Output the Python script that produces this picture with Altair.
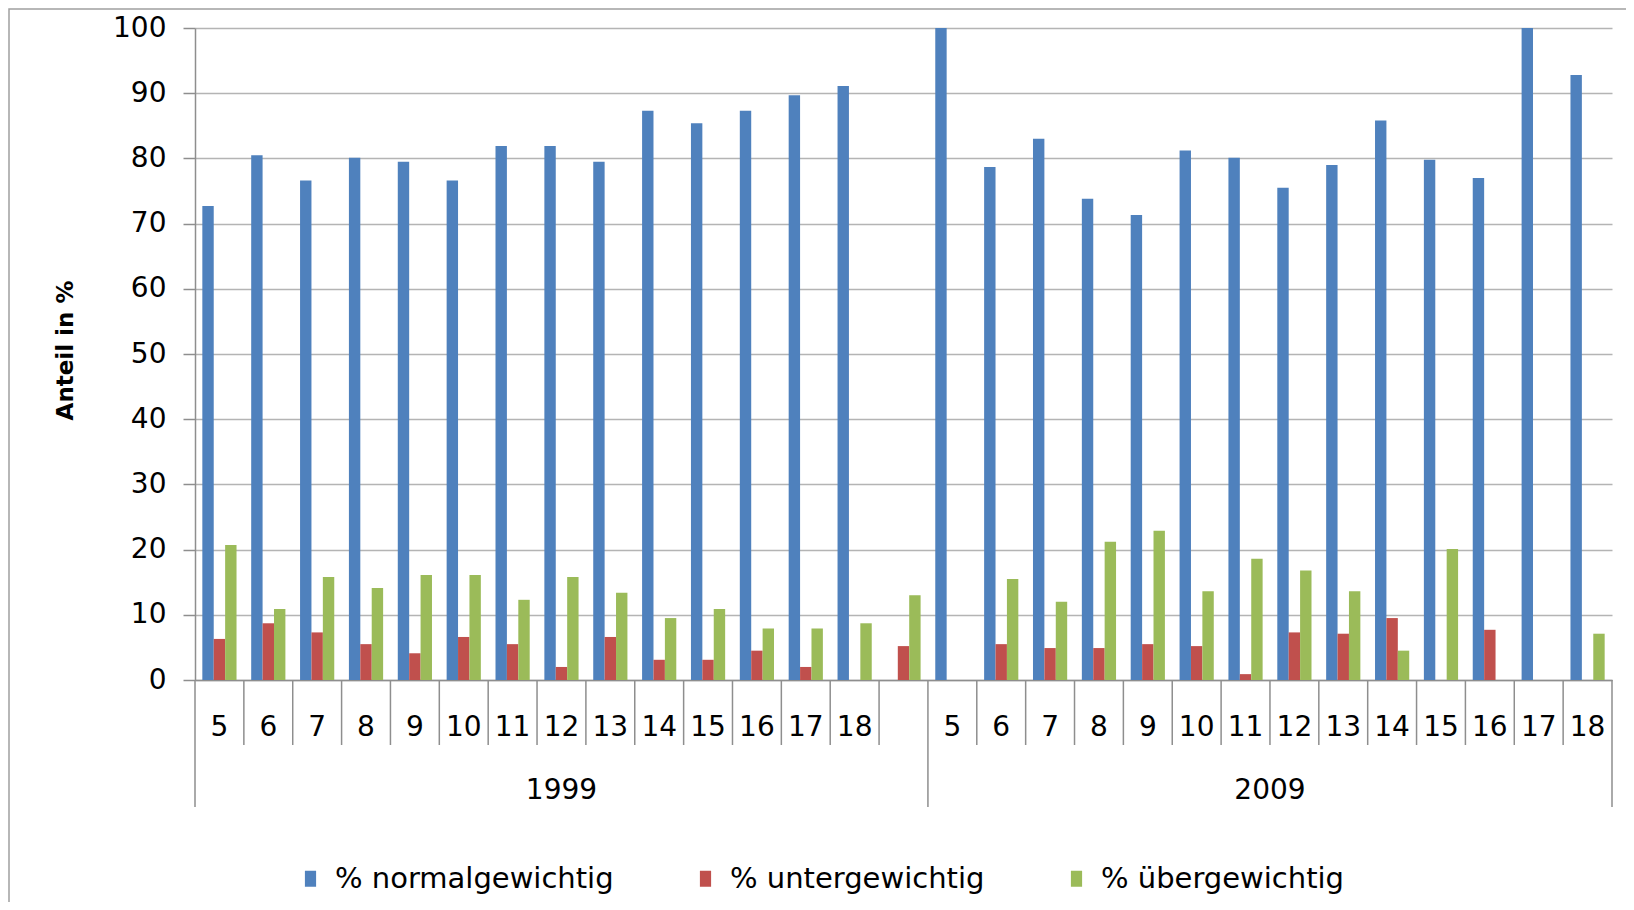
import altair as alt
import pandas as pd

# ---- data ----
ages_1999 = ["5", "6", "7", "8", "9", "10", "11", "12", "13", "14", "15", "16", "17", "18", ""]
normal_1999 = [72.7, 80.5, 76.6, 80.1, 79.5, 76.6, 81.9, 81.9, 79.5, 87.3, 85.4, 87.3, 89.7, 91.1, None]
unter_1999 = [6.3, 8.7, 7.3, 5.5, 4.1, 6.6, 5.5, 2.0, 6.6, 3.1, 3.1, 4.5, 2.0, None, 5.2]
ueber_1999 = [20.7, 10.9, 15.8, 14.1, 16.1, 16.1, 12.3, 15.8, 13.4, 9.5, 10.9, 7.9, 7.9, 8.7, 13.0]

ages_2009 = ["5", "6", "7", "8", "9", "10", "11", "12", "13", "14", "15", "16", "17", "18"]
normal_2009 = [100.0, 78.7, 83.0, 73.8, 71.3, 81.2, 80.1, 75.5, 79.0, 85.8, 79.8, 77.0, 100.0, 92.8]
unter_2009 = [None, 5.5, 4.9, 4.9, 5.5, 5.2, 0.9, 7.3, 7.1, 9.5, None, 7.7, None, None]
ueber_2009 = [None, 15.5, 12.0, 21.2, 22.9, 13.6, 18.6, 16.8, 13.6, 4.5, 20.1, None, None, 7.1]

series_names = ["% normalgewichtig", "% untergewichtig", "% übergewichtig"]
series_colors = ["#4F81BD", "#C0504D", "#9BBB59"]
years = ["1999", "2009"]
y_ticks = [0, 10, 20, 30, 40, 50, 60, 70, 80, 90, 100]

# ---- build tables ----
rows = []
slots = []
for year, ages, series_vals in [
    ("1999", ages_1999, [normal_1999, unter_1999, ueber_1999]),
    ("2009", ages_2009, [normal_2009, unter_2009, ueber_2009]),
]:
    for i, a in enumerate(ages):
        slot = f"{year}|{a}"
        slots.append(slot)
        for s, arr in zip(series_names, series_vals):
            v = arr[i]
            if v is not None:
                rows.append({"slot": slot, "series": s, "value": v})
df = pd.DataFrame(rows)

W, H = 1417, 652
FONT = "DejaVu Sans"
GRID = "#b4b4b4"
AX = "#8e8e8e"
BW = 11.4

xscale = alt.Scale(domain=slots, paddingInner=0, paddingOuter=0)

x_enc = alt.X("slot:N", scale=xscale, sort=slots,
              axis=alt.Axis(title=None, labelExpr="split(datum.value, '|')[1]",
                            labelAngle=0, ticks=False, grid=False,
                            domainColor=AX, domainWidth=1.5,
                            labelFontSize=28, labelFont=FONT, labelColor="#000000",
                            labelPadding=47, labelBaseline="middle"))
y_enc = alt.Y("value:Q", scale=alt.Scale(domain=[0, 100], nice=False), stack=None,
              axis=alt.Axis(values=y_ticks, title="Anteil in %", tickSize=12, tickColor=AX,
                            tickWidth=1.5, domainColor=AX, domainWidth=1.5,
                            gridColor=GRID, gridWidth=1.5,
                            labelFontSize=28, labelFont=FONT, labelColor="#000000",
                            labelPadding=17,
                            titleFont=FONT, titleFontSize=23, titleFontWeight="bold",
                            titleColor="#000000", titleX=-130, titleY=H / 2 - 4,
                            titleAlign="center", titleBaseline="middle", titleAngle=270))
color_enc = alt.Color("series:N", sort=series_names,
                      scale=alt.Scale(domain=series_names, range=series_colors),
                      legend=alt.Legend(title=None, orient="none", direction="horizontal",
                                        legendX=101, legendY=836,
                                        symbolType="M-0.7,-1H0.7V1H-0.7Z", symbolSize=256,
                                        symbolStrokeWidth=0, symbolOpacity=1,
                                        labelFont=FONT, labelFontSize=29, labelColor="#000000",
                                        labelOffset=10, columnPadding=77, labelLimit=500))

offsets = [-BW, 0, BW]
bar_layers = []
for s, off in zip(series_names, offsets):
    bar_layers.append(
        alt.Chart(df[df["series"] == s]).mark_bar(width=BW, xOffset=off).encode(
            x=x_enc, y=y_enc, color=color_enc)
    )

# separators below the axis
n1 = len(ages_1999)
sep_short = pd.DataFrame({"slot": [s for i, s in enumerate(slots) if i not in (0, n1)]})
sep_long_start = pd.DataFrame({"slot": [slots[0], slots[n1]]})
sep_long_end = pd.DataFrame({"slot": [slots[-1]]})

short_rules = alt.Chart(sep_short).mark_rule(color=AX, strokeWidth=1.5).encode(
    x=alt.X("slot:N", scale=xscale, sort=slots, bandPosition=0),
    y=alt.value(H), y2=alt.value(H + 65))
long_rules = alt.Chart(sep_long_start).mark_rule(color=AX, strokeWidth=1.5).encode(
    x=alt.X("slot:N", scale=xscale, sort=slots, bandPosition=0),
    y=alt.value(H), y2=alt.value(H + 127))
end_rule = alt.Chart(sep_long_end).mark_rule(color=AX, strokeWidth=1.5).encode(
    x=alt.X("slot:N", scale=xscale, sort=slots, bandPosition=1),
    y=alt.value(H), y2=alt.value(H + 127))

g1 = pd.DataFrame({"slot": [slots[7]], "label": [years[0]]})
g2 = pd.DataFrame({"slot": [slots[n1 + 7]], "label": [years[1]]})
grp1 = alt.Chart(g1).mark_text(font=FONT, fontSize=28, color="#000000", baseline="middle").encode(
    x=alt.X("slot:N", scale=xscale, sort=slots, bandPosition=0.5),
    y=alt.value(H + 111), text="label:N")
grp2 = alt.Chart(g2).mark_text(font=FONT, fontSize=28, color="#000000", baseline="middle").encode(
    x=alt.X("slot:N", scale=xscale, sort=slots, bandPosition=0),
    y=alt.value(H + 111), text="label:N")

frame = alt.Chart(pd.DataFrame({"k": [0]})).mark_rect(
    fill="transparent", stroke="#a0a0a0", strokeWidth=1.5).encode(
    x=alt.value(-186), x2=alt.value(W + 60), y=alt.value(-19), y2=alt.value(H + 300))

chart = alt.layer(frame, *bar_layers, short_rules, long_rules, end_rule, grp1, grp2).properties(
    width=W, height=H,
    autosize=alt.AutoSizeParams(type="none"),
    padding={"left": 187, "top": 20, "right": 14, "bottom": 222},
).configure_view(stroke=None)

chart.save("out.html", embed_options={"renderer": "svg", "actions": False})
